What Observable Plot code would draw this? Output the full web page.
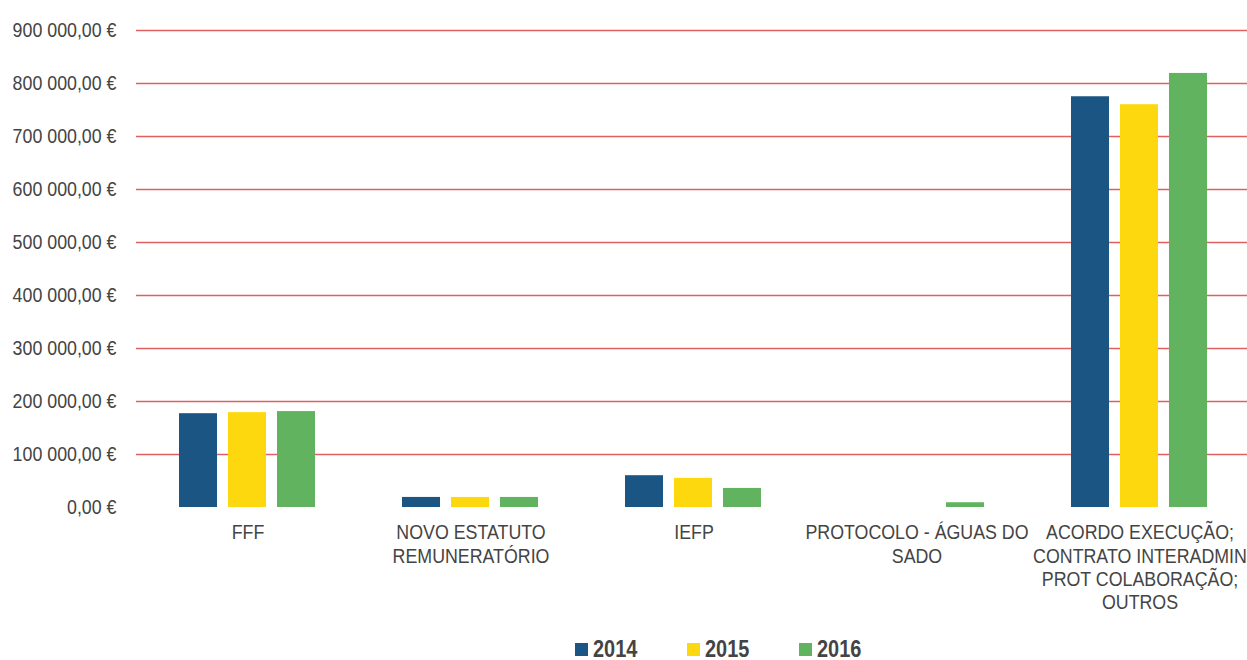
<!DOCTYPE html>
<html>
<head>
<meta charset="utf-8">
<script src="https://cdn.jsdelivr.net/npm/d3@7"></script>
<script src="https://cdn.jsdelivr.net/npm/@observablehq/plot@0.6"></script>
<style>
  body { margin: 0; background: #fff; font-family: "Liberation Sans", Arial, sans-serif; }
  #legend { position: absolute; left: 575px; top: 639px; display: flex; gap: 0;
            font-weight: bold; font-size: 24px; color: #444; line-height: 20px; height: 20px;
            font-family: "Liberation Sans", Arial, sans-serif; }
  #legend .item { display: flex; align-items: center; gap: 5px; width: 112px; }
  #legend .sw { width: 13px; height: 13px; display: inline-block; }
  #legend .lab { display: inline-block; transform: scaleX(0.83); transform-origin: left center; }
</style>
</head>
<body>
<div id="chart"></div>
<div id="legend"></div>
<script>
const categories = ["FFF", "NOVO ESTATUTO REMUNERATÓRIO", "IEFP", "PROTOCOLO - ÁGUAS DO SADO", "ACORDO EXECUÇÃO; CONTRATO INTERADMIN PROT COLABORAÇÃO; OUTROS"];
const categoryLabels = ["FFF", "NOVO ESTATUTO\nREMUNERATÓRIO", "IEFP", "PROTOCOLO - ÁGUAS DO\nSADO", "ACORDO EXECUÇÃO;\nCONTRATO INTERADMIN\nPROT COLABORAÇÃO;\nOUTROS"];
const years = ["2014", "2015", "2016"];
const values2014 = [177000, 19000, 60000, 0, 775000];
const values2015 = [179000, 19000, 55000, 0, 760000];
const values2016 = [181000, 19000, 36000, 9000, 819000];
const yTicks = [100000, 200000, 300000, 400000, 500000, 600000, 700000, 800000, 900000];
const colors = ["#1b5584", "#fdd80f", "#62b35f"];

const series = [values2014, values2015, values2016];
const data = [];
categories.forEach((c, i) => years.forEach((y, j) => data.push({cat: c, year: y, value: series[j][i]})));
const labelOf = new Map(categories.map((c, i) => [c, categoryLabels[i]]));

const locale = d3.formatLocale({decimal: ",", thousands: " ", grouping: [3], currency: ["", " €"]});
const fmt = locale.format("$,.2f");

const chart = Plot.plot({
  width: 1247,
  height: 630,
  marginLeft: 134,
  marginRight: -5,
  marginTop: 30,
  marginBottom: 123,
  style: {fontFamily: "'Liberation Sans', Arial, sans-serif", fontSize: "20px", color: "#444"},
  fx: {domain: categories, padding: 0, label: null},
  x: {domain: years, paddingInner: 0.22, paddingOuter: 0.85, axis: null},
  y: {domain: [0, 900000], label: null},
  color: {domain: years, range: colors},
  marks: [
    Plot.ruleY(yTicks, {stroke: "#de6060", strokeWidth: 1.3, facet: "exclude"}),
    Plot.barY(data, {fx: "cat", x: "year", y: "value", fill: "year"}),
    Plot.axisY({ticks: [0, ...yTicks], tickFormat: fmt, tickSize: 0, tickPadding: 20, fontSize: 20, fill: "#444"}),
    Plot.axisFx({anchor: "bottom", tickFormat: d => labelOf.get(d), tickSize: 0, tickPadding: 15, lineHeight: 1.17, fontSize: 20, fill: "#444", label: null})
  ]
});
// condense text horizontally (the original uses a narrow typeface)
chart.querySelectorAll("text").forEach(t => {
  const tr = t.getAttribute("transform") || "";
  t.setAttribute("transform", tr + " scale(0.89,1)");
});
document.getElementById("chart").appendChild(chart);

const legend = document.getElementById("legend");
years.forEach((y, i) => {
  const item = document.createElement("div");
  item.className = "item";
  const sw = document.createElement("span");
  sw.className = "sw";
  sw.style.background = colors[i];
  const t = document.createElement("span");
  t.className = "lab";
  t.textContent = y;
  item.appendChild(sw);
  item.appendChild(t);
  legend.appendChild(item);
});
</script>
</body>
</html>
